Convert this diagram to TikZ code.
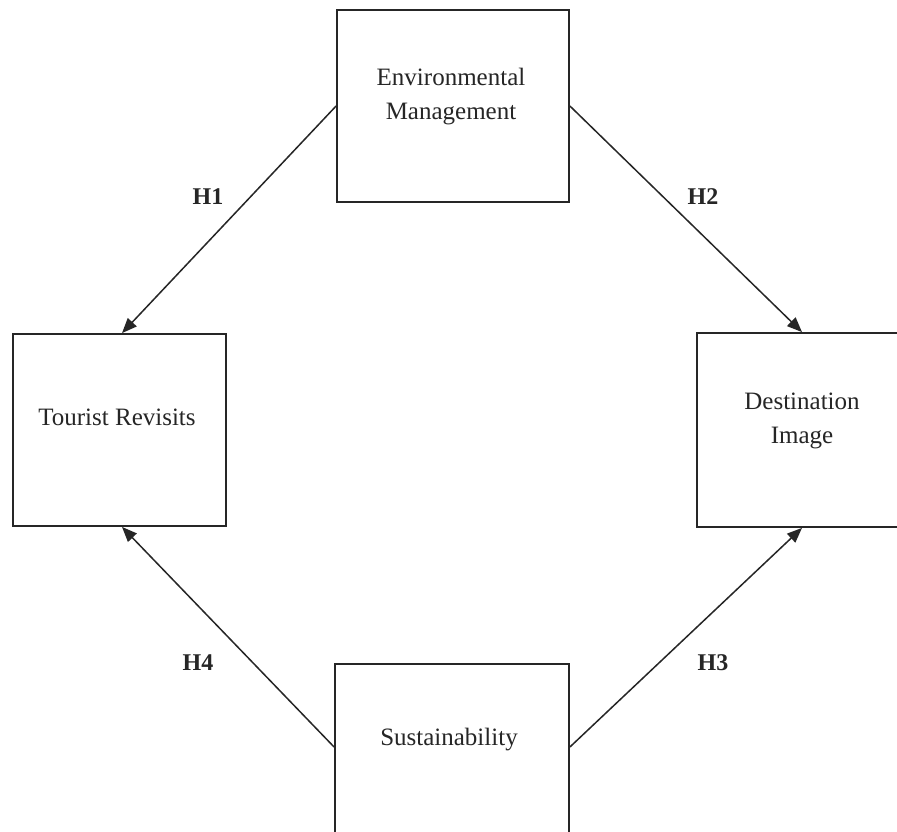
\documentclass[tikz,border=0pt]{standalone}
\usepackage{fontspec}
\setmainfont{Liberation Serif}
\usetikzlibrary{arrows.meta,calc}
\begin{document}
\begin{tikzpicture}[x=1pt,y=-1pt,
  box/.style={draw=black!85,line width=1.8pt,minimum width=#1,inner sep=0pt},
  boxtext/.style={font=\fontsize{25}{34}\selectfont,align=center,inner sep=0pt,text=black!85},
  hyp/.style={font=\fontsize{24}{28}\selectfont\bfseries,inner sep=0pt,text=black!85},
  link/.style={draw=black!85,line width=1.5pt,-{Triangle[length=15pt,width=12pt]}}]
\useasboundingbox[fill=white] (0,0) rectangle (897,831);
% boxes
\node[box=232pt,minimum height=192pt] (env) at (453,106) {};
\node[box=213pt,minimum height=192pt] (tour) at (119.5,430) {};
\node[box=210pt,minimum height=194pt] (dest) at (802,430) {};
\node[box=234pt,minimum height=192pt] (sust) at (452,760) {};
% texts
\node[boxtext] (envt) at (451,96.5) {Environmental\\Management};
\node[boxtext] (tourt) at (117,417.5) {Tourist Revisits};
\node[boxtext] (destt) at (802,421) {Destination\\Image};
\node[boxtext] (sustt) at (449,740) {Sustainability};
% connector end points
\coordinate (sw) at ($(sust.west)+(0,-13)$);
\coordinate (se) at ($(sust.east)+(0,-13)$);
\coordinate (tn) at ($(tour.north)+(2.5,0)$);
\coordinate (ts) at ($(tour.south)+(2.5,0)$);
% connectors
\draw[link] (env.west) -- (tn);
\draw[link] (env.east) -- (dest.north);
\draw[link] (se) -- (dest.south);
\draw[link] (sw) -- (ts);
% labels
\node[hyp] (h1) at (208,197) {H1};
\node[hyp] (h2) at (703,197) {H2};
\node[hyp] (h3) at (713,663) {H3};
\node[hyp] (h4) at (198,663) {H4};
\end{tikzpicture}
\end{document}
